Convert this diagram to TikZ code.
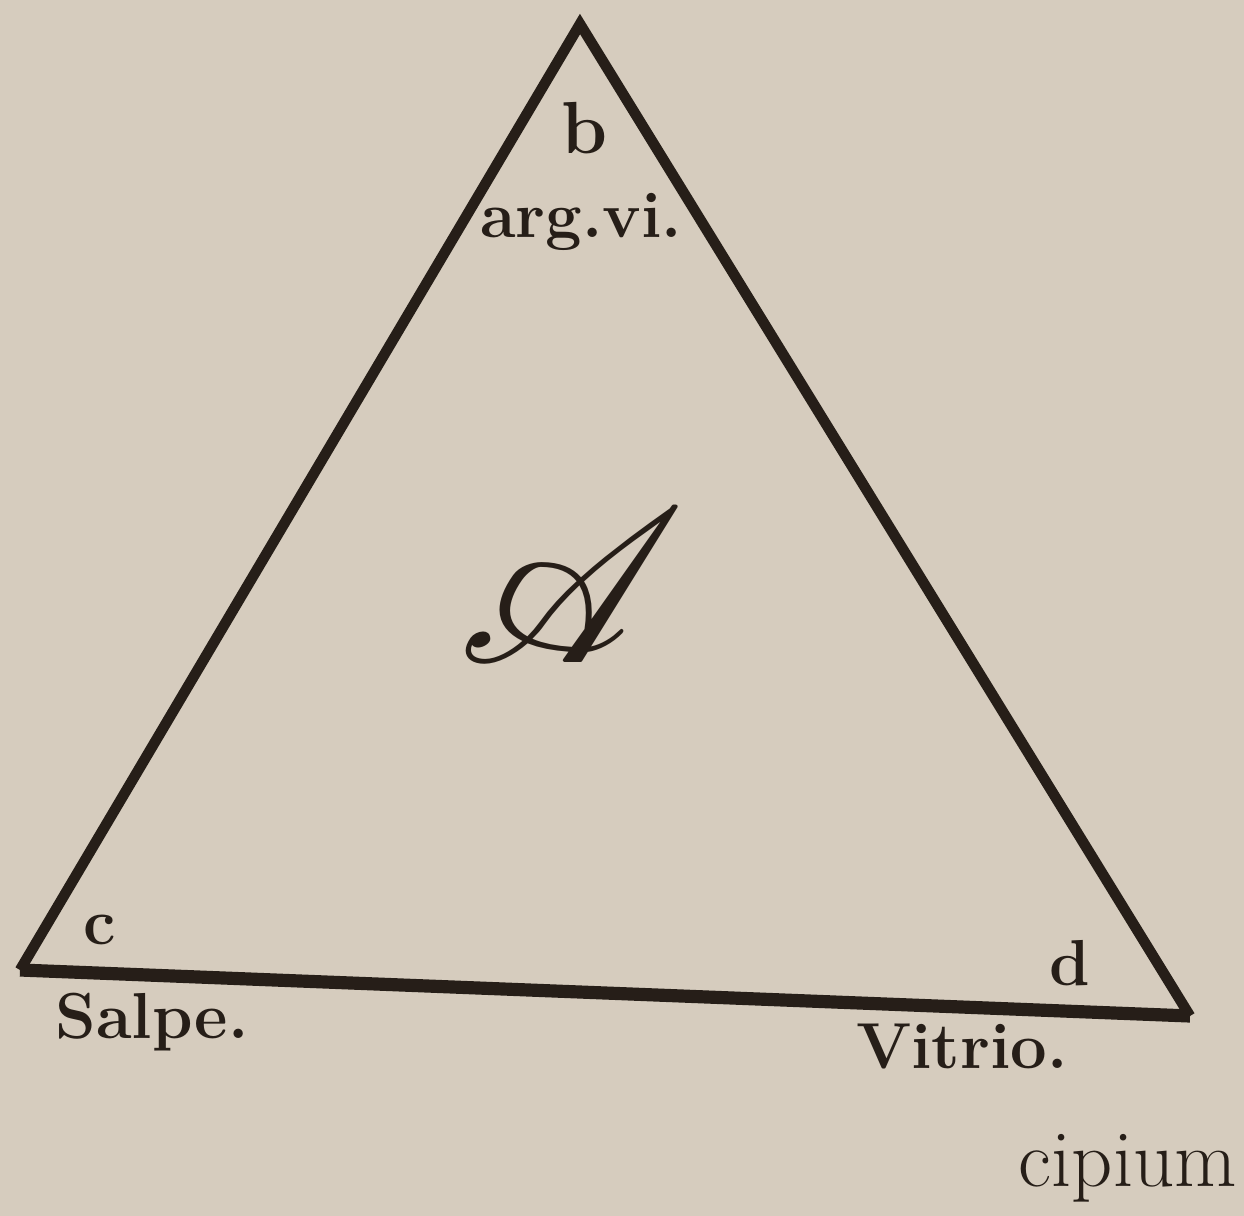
\documentclass[tikz,border=0pt]{standalone}
\usepackage{graphicx}
\usepackage{mathrsfs}
\definecolor{paper}{RGB}{214,204,190}
\definecolor{ink}{RGB}{38,30,24}
\begin{document}
\begin{tikzpicture}[x=0.02cm,y=-0.02cm,
  lbl/.style={text=ink,inner sep=0pt,font=\fontsize{37}{44}\selectfont\bfseries},
  edge/.style={draw=ink,line width=6pt,line join=miter}]
\fill[paper] (0,0) rectangle (1244,1216);
\useasboundingbox (0,0) rectangle (1244,1216);
\coordinate (B) at (580,24);
\coordinate (C) at (20,970);
\coordinate (D) at (1190,1016);
\draw[edge] (C) -- (B) -- (D);
\draw[draw=ink,line width=7.5pt] (C) -- (D);
\node[lbl,font=\fontsize{42}{48}\selectfont\bfseries] (lb) at (585,128) {b};
\node[lbl] (larg) at (581,222) {arg.vi.};
\node[text=ink,inner sep=0pt] (lA) at (572,586) {\scalebox{12.5}{$\mathscr{A}$}};
\node[lbl] (lc) at (100,930) {c};
\node[lbl] (ld) at (1070,963) {d};
\node[lbl] (lsalpe) at (152,1022) {Salpe.};
\node[lbl] (lvitrio) at (962,1046) {Vitrio.};
\node[lbl,font=\fontsize{46}{52}\selectfont] (lcip) at (1128,1168) {cipium};
\end{tikzpicture}
\end{document}
